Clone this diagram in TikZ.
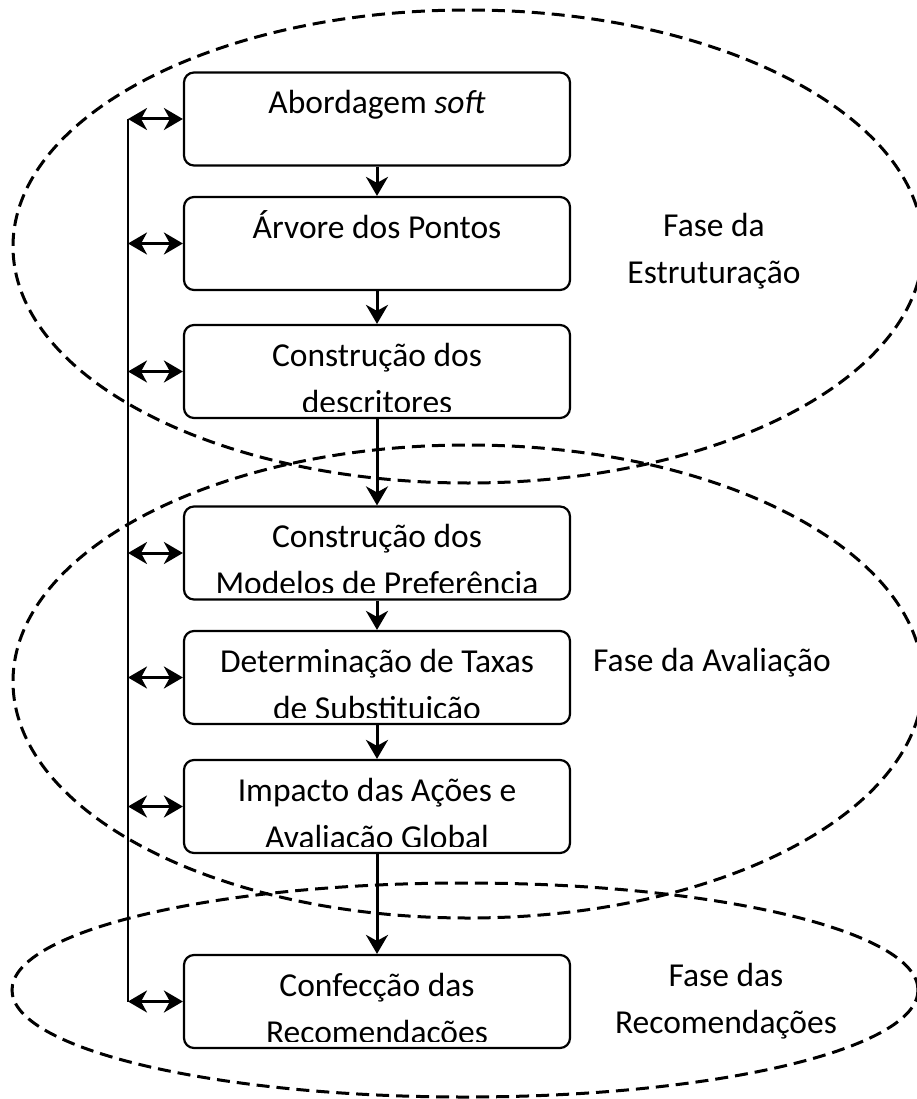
\documentclass[tikz,border=0pt]{standalone}
\usepackage{fontspec}
\setmainfont{Carlito}
\usetikzlibrary{arrows.meta}

\tikzset{
  stage/.style 2 args={draw, line width=2.2pt, rounded corners=10pt, minimum width=386pt, minimum height=93pt,
    path picture={\clip ([yshift=7pt]path picture bounding box.south west) rectangle (path picture bounding box.north east);
      \node[anchor=base, align=center, inner sep=0pt, minimum width=0pt, minimum height=0pt] at ([yshift=-#1pt]path picture bounding box.north) {#2};}},
  phasetext/.style={anchor=base, align=center, inner sep=0pt},
  phase/.style={line width=3pt, dash pattern=on 13pt off 7pt},
  flow/.style={line width=3pt, -{Stealth[length=19pt, width=22pt, inset=6pt]}},
  link/.style={line width=3pt, {Stealth[length=19pt, width=22pt, inset=6pt]}-{Stealth[length=19pt, width=22pt, inset=6pt]}}
}

\begin{document}
\begin{tikzpicture}[x=1pt, y=-1pt, font=\fontsize{33.5}{47}\selectfont]
    \useasboundingbox (0,0) rectangle (917,1099);
    \draw[phase] (468,246.5) ellipse [x radius=455pt, y radius=236.5pt];
    \draw[phase] (468,681.5) ellipse [x radius=455pt, y radius=236.5pt];
    \draw[phase] (465,990) ellipse [x radius=453pt, y radius=107pt];
    \node[stage={41}{Abordagem \textit{soft}}] (soft) at (377,119) {};
    \node[stage={41}{Árvore dos Pontos}] (arvore) at (377,243.5) {};
    \node[stage={88}{Construção dos\\descritores}] (descritores) at (377,371.5) {};
    \node[stage={88}{Construção dos\\Modelos de Preferência}] (modelos) at (377,553) {};
    \node[stage={88}{Determinação de Taxas\\de Substituição}] (taxas) at (377,677.5) {};
    \node[stage={88}{Impacto das Ações e\\Avaliação Global}] (impacto) at (377,806.5) {};
    \node[stage={88}{Confecção das\\Recomendações}] (recomendacoes) at (377,1001.5) {};
    \node[phasetext] (estruturacao) at (714,283) {Fase da\\Estruturação};
    \node[phasetext] (avaliacao) at (712,671) {Fase da Avaliação};
    \node[phasetext] (fase recom) at (726,1033) {Fase das\\Recomendações};
    \coordinate (bus) at (128,0);
    \draw[line width=2.2pt] (soft.west -| bus) -- (recomendacoes.west -| bus);
    \foreach \s in {soft,arvore,descritores,modelos,taxas,impacto,recomendacoes}
      \draw[link] (\s.west -| bus) -- (\s.west);
    \draw[flow] (soft) -- (arvore);
    \draw[flow] (arvore) -- (descritores);
    \draw[flow] (descritores) -- (modelos);
    \draw[flow] (modelos) -- (taxas);
    \draw[flow] (taxas) -- (impacto);
    \draw[flow] (impacto) -- (recomendacoes);
\end{tikzpicture}
\end{document}
